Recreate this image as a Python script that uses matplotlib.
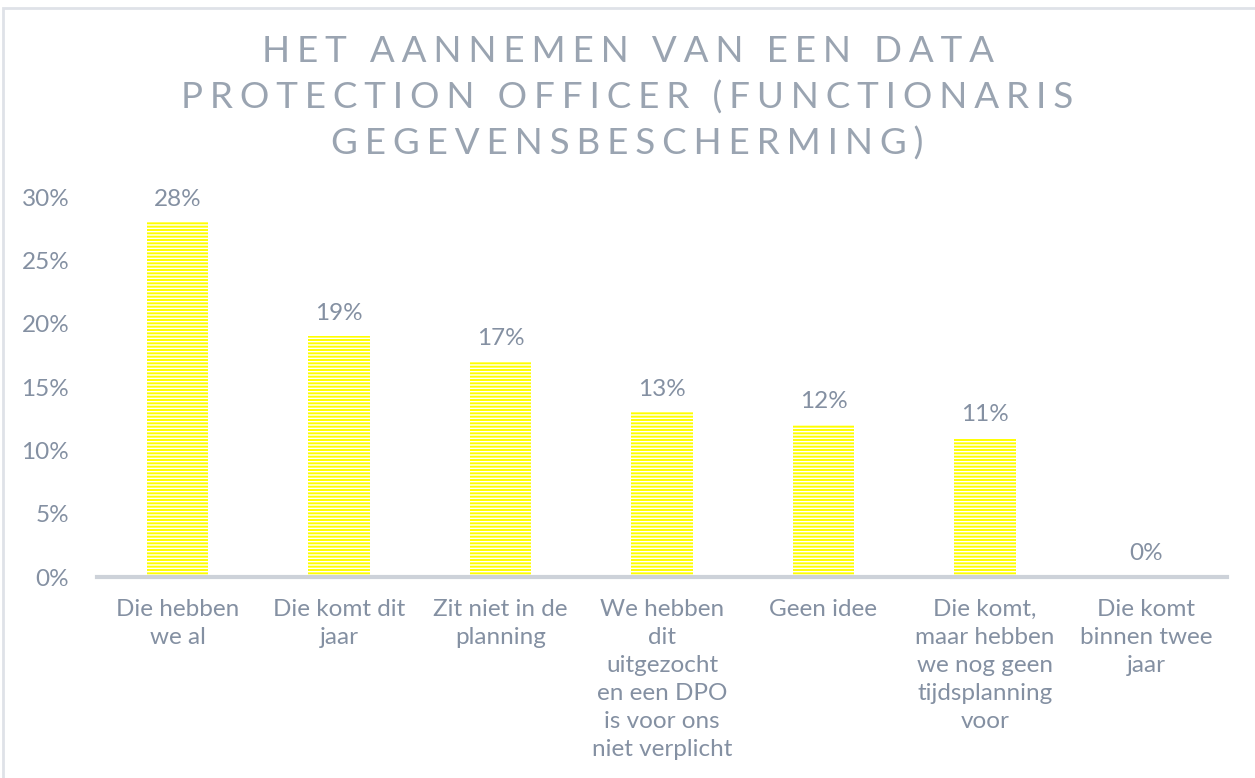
import matplotlib.pyplot as plt
from matplotlib.patches import Rectangle

categories = ["Die hebben\nwe al", "Die komt dit\njaar", "Zit niet in de\nplanning",
              "We hebben\ndit\nuitgezocht\nen een DPO\nis voor ons\nniet verplicht",
              "Geen idee", "Die komt,\nmaar hebben\nwe nog geen\ntijdsplanning\nvoor",
              "Die komt\nbinnen twee\njaar"]
values = [28, 19, 17, 13, 12, 11, 0]
yticks = [0, 5, 10, 15, 20, 25, 30]
title_lines = ["HET AANNEMEN VAN EEN DATA",
               "PROTECTION OFFICER (FUNCTIONARIS",
               "GEGEVENSBESCHERMING)"]

text_color = "#8490a2"
font = "Lato"

fig = plt.figure(figsize=(12.55, 7.78), dpi=100)
ax = fig.add_axes([97 / 1255, 1 - 577 / 778, 1130 / 1255, 380 / 778])

plt.rcParams["hatch.linewidth"] = 1.0
x = range(len(categories))
ax.bar(x, values, width=0.38, color="#ffff00", edgecolor="white",
       hatch="-----", linewidth=0)

for xi, v in zip(x, values):
    ax.text(xi, v + 1.0, f"{v}%", ha="center", va="bottom", fontsize=17.5,
            color=text_color, family=font)

ax.set_xlim(-0.5, len(categories) - 0.5)
ax.set_ylim(0, 30)
ax.set_yticks(yticks)
ax.set_yticklabels([f"{t}%" for t in yticks], fontsize=17.5, color=text_color,
                   family=font)
ax.set_xticks(list(x))
ax.set_xticklabels(categories, fontsize=17.5, color=text_color, family=font,
                   linespacing=1.41, va="top")
ax.tick_params(axis="both", length=0)
ax.tick_params(axis="y", pad=20)
ax.tick_params(axis="x", pad=16)
for s in ["top", "right", "left"]:
    ax.spines[s].set_visible(False)
ax.spines["bottom"].set_color("#cdd2d9")
ax.spines["bottom"].set_linewidth(3)

sep = "\u2009\u200a"
for i, line in enumerate(title_lines):
    spaced = sep.join(line)
    fig.text(0.5, 1 - (51 + i * 46.5) / 778, spaced, ha="center", va="center",
             fontsize=26.5, color="#9aa4b1", family=font)

fig.patches.append(Rectangle((3 / 1255, -0.01), 1.1, 1 - 8 / 778 + 0.01,
                             transform=fig.transFigure, fill=False,
                             edgecolor="#dfe2e8", linewidth=2))

fig.savefig("out.png", dpi=100)
